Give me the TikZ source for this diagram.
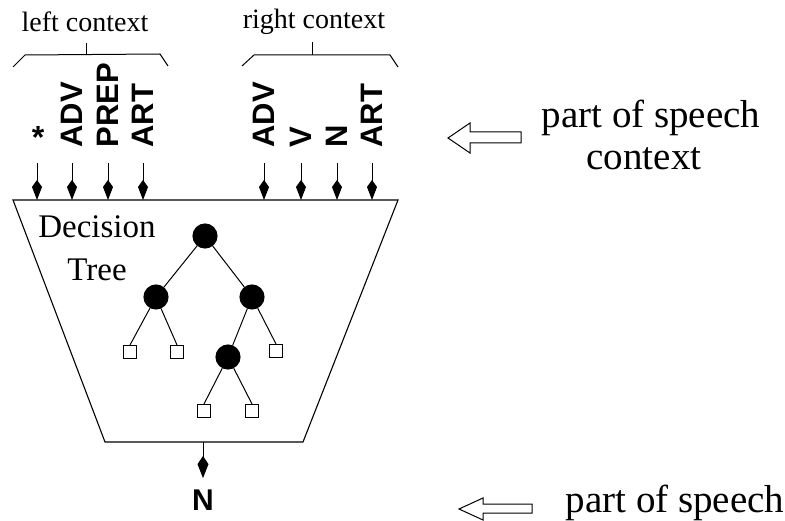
\documentclass[tikz,border=0pt]{standalone}
\usepackage{fontspec}
\setmainfont{Liberation Serif}
\newfontfamily\labfont{Liberation Sans}
\usetikzlibrary{arrows.meta}
\begin{document}
\begin{tikzpicture}[x=1pt,y=-1pt,
  line width=1.1pt,
  poslab/.style={font=\labfont\bfseries\fontsize{31}{31}\selectfont, rotate=90, anchor=west, inner sep=0pt},
  inarrow/.style={-{Kite[length=20pt,width=10pt,inset=7pt]}, line width=1pt},
  ctxtext/.style={font=\fontsize{28}{30}\selectfont, inner sep=0pt},
  bigtext/.style={font=\fontsize{39}{42}\selectfont, inner sep=0pt, anchor=base},
  dtext/.style={font=\fontsize{33}{36}\selectfont, inner sep=0pt},
  inner/.style={circle, fill=black, draw=black, minimum size=24pt, inner sep=0pt},
  leaf/.style={rectangle, draw=black, line width=1pt, fill=white, minimum size=13pt, inner sep=0pt},
  treeedge/.style={line width=1pt},
  bracket/.style={line width=1pt},
  hollow/.style={draw=black, line width=1pt, fill=white}]
\useasboundingbox (0,0) rectangle (785,521);

% trapezoid
\coordinate (tl) at (13,200);
\coordinate (tr) at (398,200);
\coordinate (br) at (303,442);
\coordinate (bl) at (105,442);
\draw (tl) -- (tr) -- (br) -- (bl) -- cycle;

% context labels
\node[ctxtext] (lc) at (85,22) {left context};
\node[ctxtext] (rc) at (314,22) {right context};
% braces
\draw[bracket] (13,67) -- (25,55) -- (160,54) -- (168,66);
\draw[bracket] (86,55) -- (86,43);
\draw[bracket] (242,66) -- (254,55) -- (390,55) -- (398,67);
\draw[bracket] (312,55) -- (312,42);

% part-of-speech input labels
\node[font=\labfont\bfseries\fontsize{32}{32}\selectfont, inner sep=0pt] (l1) at (38,137) {*};
\node[poslab] (l2) at (72,148) {ADV};
\node[poslab] (l3) at (108,148) {PREP};
\node[poslab] (l4) at (143,148) {ART};
\node[poslab] (r1) at (264,148) {ADV};
\node[poslab] (r2) at (301,148) {V};
\node[poslab] (r3) at (337,148) {N};
\node[poslab] (r4) at (372,148) {ART};

\foreach \n in {l2,l3,l4,r1,r2,r3,r4}{
  \draw[inarrow] ([yshift=-15pt]\n.west) -- (\n.west |- tl);
}
\draw[inarrow] (37,163) -- (37,200);

% decision tree text
\node[dtext] (dec) at (97,227) {Decision};
\node[dtext] (tree) at (97,270) {Tree};

% tree
\node[inner] (root) at (205,236) {};
\node[inner] (lch) at (156,297) {};
\node[inner] (rch) at (252,297) {};
\node[inner] (mid) at (228,357) {};
\node[leaf] (s1) at (130,352) {};
\node[leaf] (s2) at (177,352) {};
\node[leaf] (s3) at (276,351) {};
\node[leaf] (s4) at (204,411) {};
\node[leaf] (s5) at (252,411) {};
\draw[treeedge] (root) -- (lch);
\draw[treeedge] (root) -- (rch);
\draw[treeedge] (lch) -- (s1.north);
\draw[treeedge] (lch) -- (s2.north);
\draw[treeedge] (rch) -- (mid);
\draw[treeedge] (rch) -- (s3.north);
\draw[treeedge] (mid) -- (s4.north);
\draw[treeedge] (mid) -- (s5.north);

% output
\node[font=\labfont\bfseries\fontsize{30}{30}\selectfont, inner sep=0pt] (out) at (203,500) {N};
\coordinate (outtop) at (203,442);
\draw[-{Kite[length=22pt,width=11pt,inset=8pt]}, line width=1pt] (outtop) -- ([yshift=11pt]out.north);

% right side annotations
\draw[hollow] (448,138) -- (470,123) -- (470,132) -- (521,132) -- (521,143) -- (470,143) -- (470,153) -- cycle;
\node[bigtext] (pos1) at (651,128) {part of speech};
\node[bigtext] (ctx) at (644,170) {context};

\draw[hollow] (459,509) -- (483,498) -- (483,504) -- (532,504) -- (532,513) -- (483,513) -- (483,520) -- cycle;
\node[bigtext] (pos2) at (675,512) {part of speech};
\end{tikzpicture}
\end{document}
